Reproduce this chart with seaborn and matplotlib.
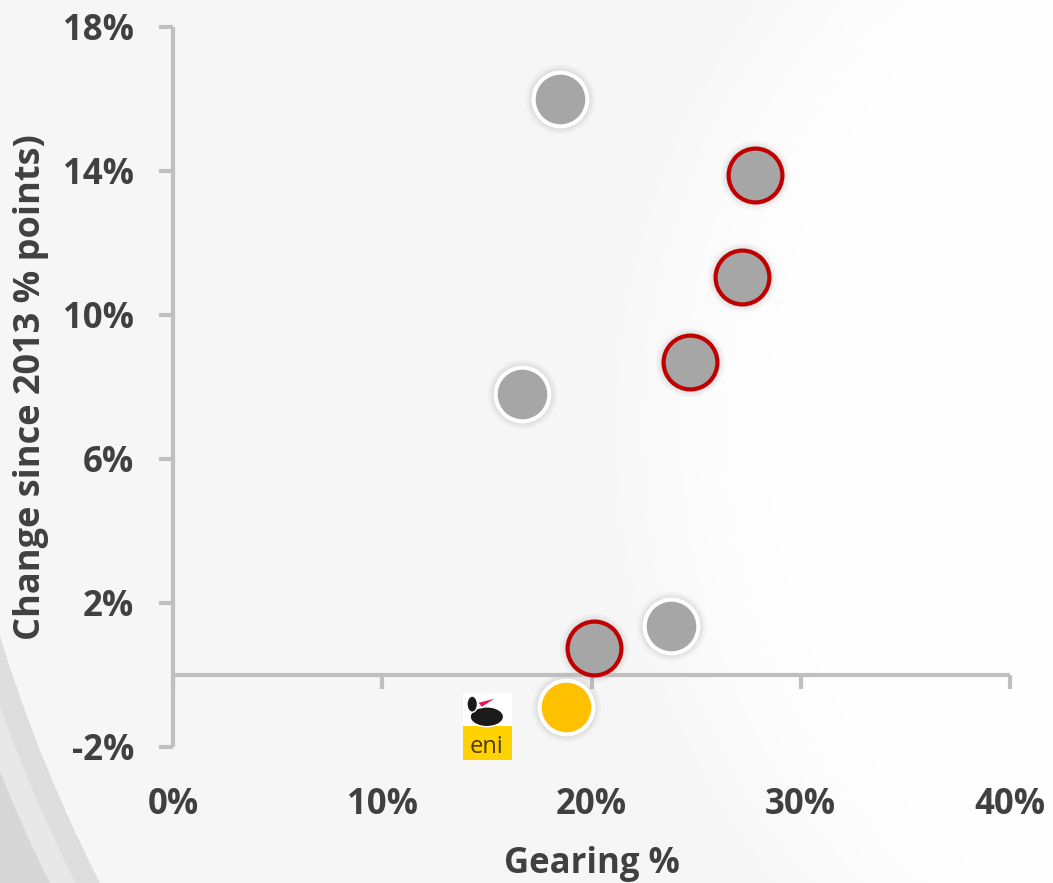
import numpy as np
import pandas as pd
import matplotlib
matplotlib.use("Agg")
import matplotlib.pyplot as plt
from matplotlib.patches import Rectangle, Ellipse, Polygon
from matplotlib.ticker import FuncFormatter
import seaborn as sns

# values
gearing = [18.5, 27.8, 27.2, 24.7, 16.7, 23.8, 20.1, 18.8]
change = [16.0, 13.9, 11.05, 8.7, 7.8, 1.35, 0.75, -0.9]
group = ["peer", "red", "red", "red", "peer", "peer", "red", "eni"]

x_ticks = [0, 10, 20, 30, 40]
y_ticks = [-2, 2, 6, 10, 14, 18]

df = pd.DataFrame({"gearing": gearing, "change": change, "group": group})

fill = {"peer": "#a6a6a6", "red": "#a6a6a6", "eni": "#ffc000"}
edge = {"peer": "white", "red": "#c00000", "eni": "white"}

sns.set_style("white")
plt.rcParams["font.family"] = ["Open Sans", "DejaVu Sans"]
plt.rcParams["font.weight"] = "bold"

W, H = 1053, 883
fig = plt.figure(figsize=(W / 100, H / 100), dpi=100)

# background: light grey with a soft white disc on the right and grey arcs bottom-left
bg = fig.add_axes([0, 0, 1, 1], zorder=-10)
yy, xx = np.mgrid[0:H, 0:W]
d1 = np.hypot(xx - 1330, yy - 430)
img = 0.962 + 0.033 / (1 + np.exp((d1 - 660) / 40))
d2 = np.hypot(xx - 1439, yy - 196)
R = 1505
img = np.where(d2 > R, 0.87, img)
img = np.where(d2 > R + 22, 0.91, img)
img = np.where(d2 > R + 45, 0.84, img)
bg.imshow(img, cmap="gray", vmin=0, vmax=1, aspect="auto", interpolation="bilinear")
bg.axis("off")

ax = fig.add_axes([173 / W, 1 - 747 / H, (1010 - 173) / W, (747 - 27) / H])
ax.patch.set_alpha(0)

# soft shadows behind the markers
for s, a in [(2500, 0.05), (2150, 0.08), (1850, 0.12)]:
    ax.scatter(df["gearing"], df["change"], s=s, color="#808080", alpha=a,
               linewidths=0, zorder=2)

for g in ["peer", "red", "eni"]:
    sub = df[df["group"] == g]
    sns.scatterplot(data=sub, x="gearing", y="change", ax=ax, s=1500,
                    color=fill[g], edgecolor=edge[g], linewidth=3.0, zorder=3,
                    legend=False)

# eni logo next to the eni marker
lx, ly = 13.85, -2.36
ax.add_patch(Rectangle((lx, ly), 2.35, 1.86, facecolor="white", edgecolor="none",
                       clip_on=False, zorder=4))
ax.add_patch(Rectangle((lx, ly), 2.35, 0.95, facecolor="#ffd200", edgecolor="none",
                       clip_on=False, zorder=4))
ax.add_patch(Ellipse((lx + 1.15, ly + 1.2), 1.6, 0.55, facecolor="#1a1a1a",
                     clip_on=False, zorder=5))
ax.add_patch(Ellipse((lx + 0.45, ly + 1.55), 0.5, 0.45, facecolor="#1a1a1a",
                     clip_on=False, zorder=5))
ax.add_patch(Polygon([(lx + 0.7, ly + 1.6), (lx + 1.7, ly + 1.75), (lx + 0.9, ly + 1.45)],
                     facecolor="#e2165b", clip_on=False, zorder=5))
ax.text(lx + 1.15, ly + 0.02, "eni", ha="center", va="bottom", fontsize=17,
        fontweight="normal", color="#4a3b10", zorder=6, clip_on=False)

ax.set_xlim(0, 40)
ax.set_ylim(-2, 18)
ax.set_xticks(x_ticks)
ax.set_yticks(y_ticks)
ax.xaxis.set_major_formatter(FuncFormatter(lambda v, p: f"{v:.0f}%"))
ax.yaxis.set_major_formatter(FuncFormatter(lambda v, p: f"{v:.0f}%"))

for side in ["top", "right"]:
    ax.spines[side].set_visible(False)
ax.spines["bottom"].set_position(("data", 0))
for side in ["bottom", "left"]:
    ax.spines[side].set_color("#bfbfbf")
    ax.spines[side].set_linewidth(3)
    ax.spines[side].set_capstyle("butt")

text_col = "#404040"
ax.tick_params(axis="both", bottom=True, left=True, colors="#bfbfbf", width=3,
               length=10, direction="out", labelsize=25, labelcolor=text_col)
ax.tick_params(axis="y", pad=18)
ax.tick_params(axis="x", pad=71)
for lab in ax.get_xticklabels() + ax.get_yticklabels():
    lab.set_fontweight("bold")

ax.set_xlabel("Gearing %", fontsize=25, fontweight="bold", color=text_col, labelpad=16)
ax.set_ylabel("Change since 2013 % points)", fontsize=26, fontweight="bold",
              color=text_col, labelpad=10)

fig.savefig("out.png", dpi=100)
